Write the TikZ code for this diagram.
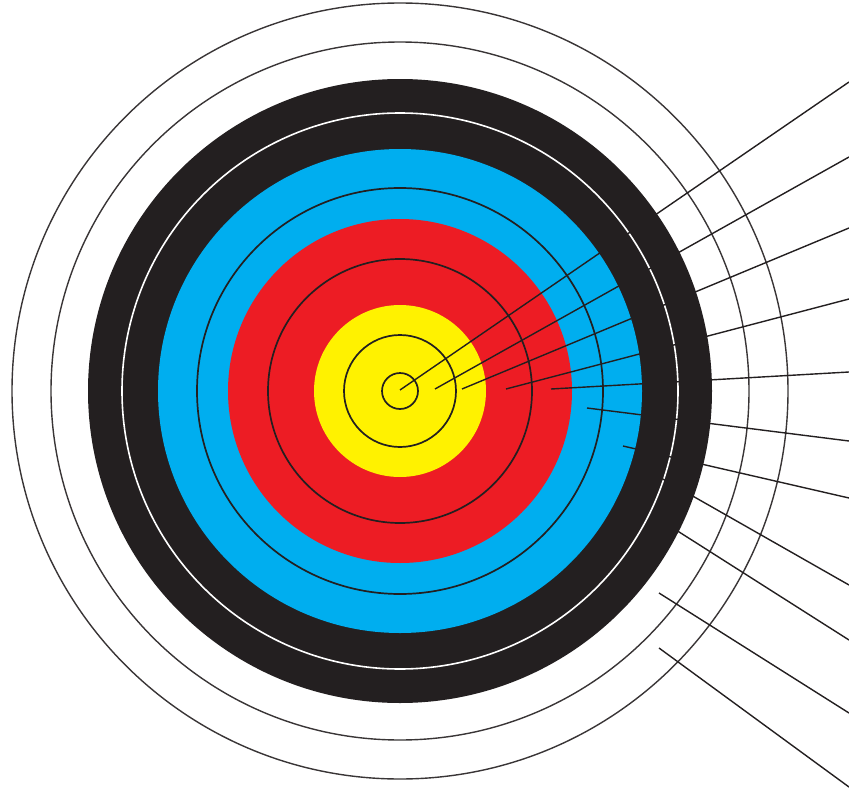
\documentclass[tikz,border=0pt]{standalone}
\usepackage{xcolor}
\usepackage{tikz}

\definecolor{tgtyellow}{HTML}{FFF200}
\definecolor{tgtred}{HTML}{ED1C24}
\definecolor{tgtblue}{HTML}{00AEEF}
\definecolor{tgtblack}{HTML}{231F20}

\begin{document}
\begin{tikzpicture}[
  x=1pt, y=-1pt,
  zone/.style={fill=#1, draw=none},
  ringline/.style={draw=tgtblack, line width=1.7pt},
  whiteline/.style={draw=white, line width=1.6pt},
  outerline/.style={draw=tgtblack!90, line width=1.4pt},
  leader/.style={draw=tgtblack, line width=1.4pt}
]
\useasboundingbox (0,0) rectangle (849,795);

%% ── TARGET FACE ──────────────────────────────────────────
\coordinate (ctr) at (400,391);
\fill[zone=tgtblack]  (ctr) circle[radius=312pt];
\fill[zone=tgtblue]   (ctr) circle[radius=242pt];
\fill[zone=tgtred]    (ctr) circle[radius=172pt];
\fill[zone=tgtyellow] (ctr) circle[radius=86pt];

%% Scoring ring lines
\draw[whiteline] (ctr) circle[radius=278pt];
\draw[ringline]  (ctr) circle[radius=203pt];
\draw[ringline]  (ctr) circle[radius=132pt];
\draw[ringline]  (ctr) circle[radius=56pt];
\draw[ringline]  (ctr) circle[radius=18pt];

%% Outer white zones
\draw[outerline] (ctr) circle[radius=349pt];
\draw[outerline] (ctr) circle[radius=388pt];

%% ── LEADER LINES ─────────────────────────────────────────
\foreach \i/\ax/\ay/\by in {1/400/390/82, 2/435/389/157, 3/462/389/228,
    4/506/389/299, 5/551/389/372, 6/587/408/441, 7/623/446/498,
    8/647/470/585, 9/665/523/640, 10/659/593/713, 11/659/648/787}{
  \coordinate (zone\i) at (\ax,\ay);
  \coordinate (edge\i) at (849,\by);
  \draw[leader] (zone\i) -- (edge\i);
}

\end{tikzpicture}
\end{document}
